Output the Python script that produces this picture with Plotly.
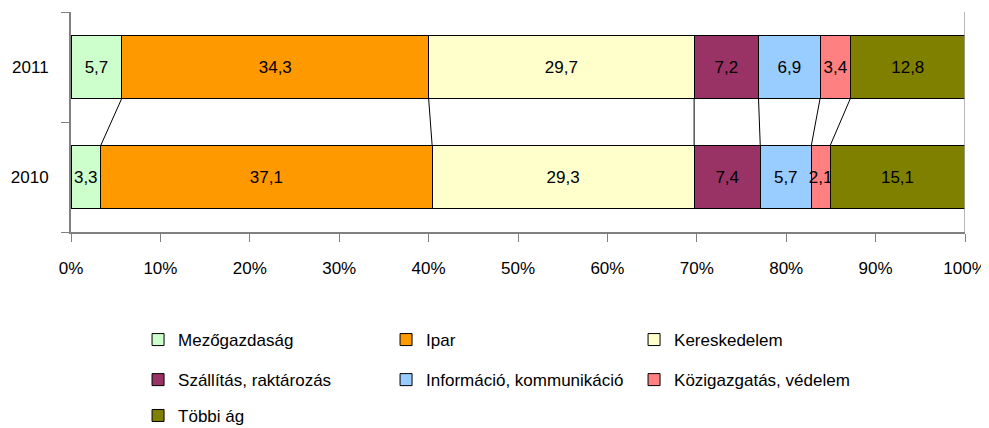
import plotly.graph_objects as go

years = ["2010", "2011"]
sectors = ["Mezőgazdaság", "Ipar", "Kereskedelem", "Szállítás, raktározás",
           "Információ, kommunikáció", "Közigazgatás, védelem", "Többi ág"]
colors = ["#CCFFCC", "#FF9900", "#FFFFCC", "#993366", "#99CCFF", "#FF8080", "#808000"]
# share of each sector, [2010, 2011]
mezogazdasag = [3.3, 5.7]
ipar = [37.1, 34.3]
kereskedelem = [29.3, 29.7]
szallitas = [7.4, 7.2]
informacio = [5.7, 6.9]
kozigazgatas = [2.1, 3.4]
tobbi = [15.1, 12.8]
values = [mezogazdasag, ipar, kereskedelem, szallitas, informacio, kozigazgatas, tobbi]
x_ticks = [0, 10, 20, 30, 40, 50, 60, 70, 80, 90, 100]
x_tick_labels = ["0%", "10%", "20%", "30%", "40%", "50%", "60%", "70%", "80%", "90%", "100%"]

FONT = "Liberation Sans, Arial"
gap = 0.436
# legend rows: three entries per row, like the original
legend_ids = ["legend", "legend", "legend", "legend2", "legend2", "legend2", "legend3"]

fig = go.Figure()
for name, col, vals, lg in zip(sectors, colors, values, legend_ids):
    fig.add_trace(go.Bar(
        y=years, x=vals, name=name, orientation="h", legend=lg,
        marker=dict(color=col, line=dict(color="black", width=1)),
        text=[f"{v:.1f}".replace(".", ",") for v in vals],
        textposition="inside", insidetextanchor="middle", textangle=0,
        constraintext="none",
        insidetextfont=dict(color="black", size=17, family=FONT),
    ))

# series lines between the bars
half = (1 - gap) / 2
c10, c11 = 0, 0
for vals in values[:-1]:
    c10 += vals[0]
    c11 += vals[1]
    fig.add_shape(type="line", xref="x", yref="y", x0=c11, y0=1 - half, x1=c10, y1=half,
                  line=dict(color="black", width=1))
fig.add_shape(type="line", xref="x", yref="paper", x0=100, x1=100, y0=0, y1=1,
              line=dict(color="#A0A0A0", width=1.5))

leg = dict(orientation="h", x=0.075, xanchor="left", yanchor="middle",
           entrywidth=203, traceorder="normal", font=dict(size=17, family=FONT),
           bgcolor="rgba(0,0,0,0)")
# page body keeps an 8px margin, so the figure is a bit smaller than the window
fig.update_layout(
    barmode="stack", bargap=gap,
    width=981, height=420,
    margin=dict(l=63, r=24, t=4, b=196, autoexpand=False),
    plot_bgcolor="white", paper_bgcolor="white",
    font=dict(family=FONT, size=17, color="black"),
    showlegend=True,
    legend=dict(leg, y=-0.491),
    legend2=dict(leg, y=-0.673),
    legend3=dict(leg, y=-0.836),
)
fig.update_xaxes(range=[0, 100], tickvals=x_ticks, ticktext=x_tick_labels,
                 showgrid=False, zeroline=False, showline=True, linecolor="#808080",
                 linewidth=2, ticks="outside", ticklen=8, tickcolor="#808080",
                 tickwidth=1, ticklabelstandoff=12, automargin=False,
                 ticklabeloverflow="allow")
fig.update_yaxes(categoryorder="array", categoryarray=years, showgrid=False,
                 showline=True, linecolor="#808080", linewidth=2,
                 ticks="outside", tickson="boundaries", ticklen=8,
                 tickcolor="#808080", tickwidth=1, ticklabelstandoff=17,
                 automargin=False)

fig.write_html("out.html")
